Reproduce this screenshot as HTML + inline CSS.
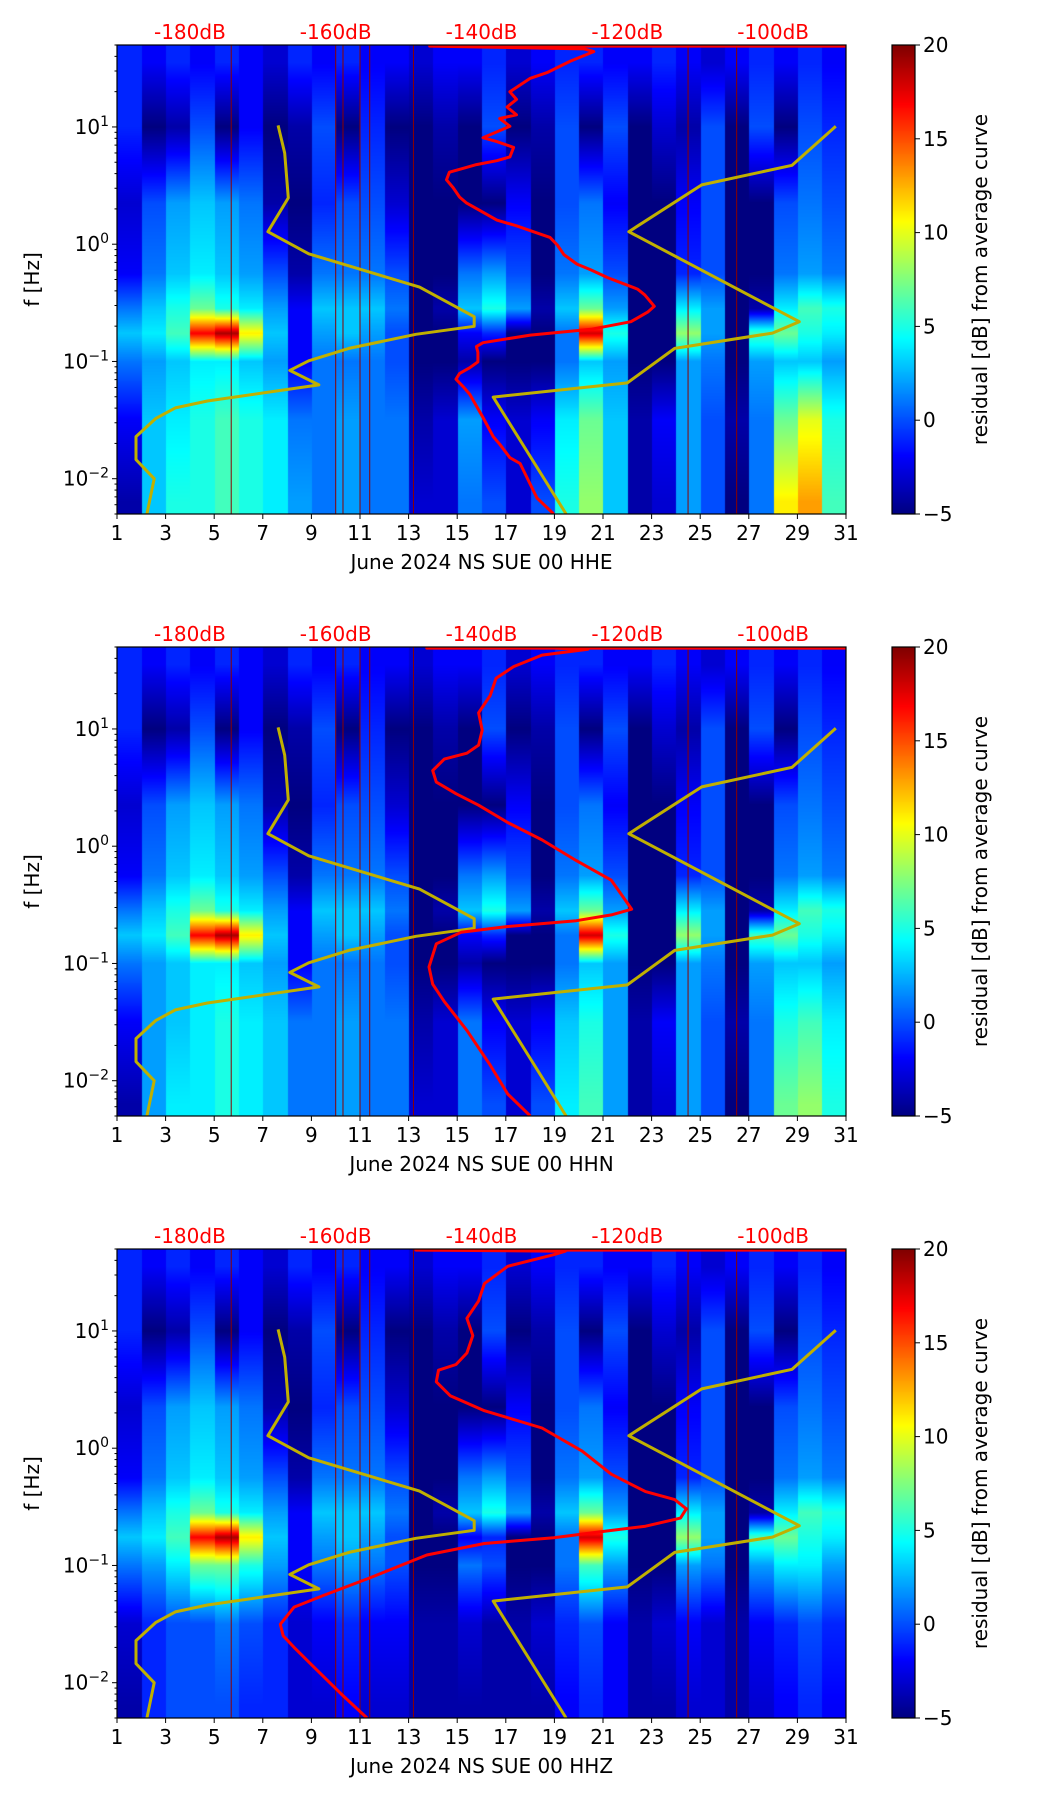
<!DOCTYPE html>
<html><head><meta charset="utf-8"><style>
html,body{margin:0;padding:0;background:#fff;}
#wrap{position:relative;width:1052px;height:1806px;overflow:hidden;font-family:"DejaVu Sans","Liberation Sans",sans-serif;}
canvas{position:absolute;}
svg{position:absolute;left:0;top:0;}
</style></head><body>
<div id="wrap">
<canvas id="c0"></canvas>
<canvas id="c1"></canvas>
<canvas id="c2"></canvas>
<canvas id="cb0"></canvas>
<canvas id="cb1"></canvas>
<canvas id="cb2"></canvas>
<svg id="svg" width="1052" height="1806" xmlns="http://www.w3.org/2000/svg"></svg>
</div>
<script>
// ---- data ----
const dayTicks = [1,3,5,7,9,11,13,15,17,19,21,23,25,27,29,31];
const dbTicks = [-180,-160,-140,-120,-100];
const decadeTicks = [-2,-1,0,1];
const cbTicks = [-5,0,5,10,15,20];
const panelLabels = ["June 2024 NS SUE 00 HHE","June 2024 NS SUE 00 HHN","June 2024 NS SUE 00 HHZ"];
const bandLogF = [1.55,1.0,0.35,-0.25,-0.55,-0.76,-1.0,-1.5,-2.2];
const r0 = [-1,-2,-1,-2,-1,-2,-3,-1,-2,-1,-2,-2,-3,-2,-2,-1,-3,-2,-1,-1,-2,-2,-1,-2,-3,-2,-1,-2,-1,-2];
const r1 = [-1,-5,-4,0,-5,-2,-5,-4,0,-5,-1,-5,-5,-4,-5,0,-5,-4,0,-5,0,-5,-3,-4,0,-5,0,-5,0,-1];
const r2 = [-3,0,2,3,2,1,-4,-5,-1,0,0,-3,-5,-5,-5,-5,-2,-5,0,1,-2,-5,-5,-2,0,-5,-5,0,1,0];
const r3 = [-2,1,3,4,3,2,0,-4,1,1,1,0,-5,-5,1,2,0,-5,1,2,0,-5,-5,-1,0,-5,-5,1,2,1];
const r4 = [1,3,5,7,5,4,2,-2,3,3,3,1,-5,-4,3,5,2,-4,3,7,2,-5,-5,4,2,-5,-4,4,6,5];
const r5 = [3,4,6,17,19,11,3,-2,2,3,2,0,-5,-5,-2,-1,-5,-5,1,18,5,-5,-5,8,2,-5,6,7,5,4];
const r6 = [1,2,3,4,4,3,2,-2,1,1,1,0,-5,-5,-4,-5,-5,-5,1,3,2,-5,-5,2,1,-5,2,3,3,2];
const r6z = [1,2,4,7,7,5,2,-2,1,2,1,0,-5,-5,1,0,-5,-5,1,6,2,-5,-5,2,1,-5,2,4,4,2];
const r7e = [-2,3,4,5,6,5,4,1,1,2,1,1,-4,-3,2,-2,-3,-2,4,7,3,-4,-2,2,0,-4,1,7,10,5];
const r8e = [-4,3,5,5,6,5,4,2,1,2,1,1,-3,-3,1,0,-3,0,5,8,3,-4,-3,2,0,-5,1,11,13,6];
const r7n = [-2,2,3,4,5,4,3,1,1,2,1,1,-4,-3,1,-2,-3,-2,3,5,2,-4,-2,2,0,-4,1,5,6,4];
const r8n = [-4,2,4,4,5,4,3,1,1,2,1,1,-3,-3,1,0,-3,0,4,6,2,-4,-3,2,0,-5,1,7,8,5];
const r7z = [-3,-1,0,0,1,0,-1,-3,-2,-1,-2,-2,-4,-4,-3,-4,-4,-3,-1,0,-2,-4,-3,-2,-3,-4,-2,-1,0,-1];
const r8z = [-4,-1,0,0,0,-1,-1,-3,-3,-2,-3,-3,-4,-4,-4,-4,-4,-4,-2,-1,-2,-4,-4,-3,-3,-4,-3,-2,-1,-2];
const gapDays = [5.7,10.0,10.3,11.0,11.4,13.2,24.5,26.5];
const nlnmDb = [-185.9,-184.9,-187.4,-187.4,-184.7,-182.0,-177.6,-162.3,-166.3,-163.7,-158.2,-149.0,-141.0,-141.0,-148.5,-163.7,-169.3,-166.5,-167.0,-167.9];
const nlnmLogF = [-2.301,-2.0,-1.837,-1.641,-1.487,-1.396,-1.337,-1.2,-1.076,-0.994,-0.889,-0.768,-0.7,-0.618,-0.366,-0.082,0.107,0.395,0.777,1.013];
const nhnmDb = [-128.4,-138.4,-120.0,-113.5,-100.1,-96.4,-119.8,-109.8,-97.4,-91.4];
const nhnmLogF = [-2.301,-1.304,-1.183,-0.889,-0.758,-0.661,0.107,0.506,0.673,1.006];
const avgDbE = [-130.1,-132.4,-134.7,-136.1,-137.5,-138.4,-139.8,-141.6,-142.5,-143.5,-143.0,-141.6,-140.5,-140.5,-140.7,-139.8,-133.3,-125.0,-119.5,-117.2,-116.3,-117.6,-118.6,-122.7,-125.0,-126.9,-128.7,-129.6,-130.6,-132.9,-135.2,-137.9,-140.2,-142.1,-143.0,-143.9,-144.8,-144.4,-142.5,-140.7,-137.9,-136.1,-135.6,-137.9,-139.8,-136.1,-137.5,-135.2,-136.5,-135.2,-136.1,-133.3,-131.0,-127.8,-124.6,-125.9,-147.1,-90];
const avgLogFE = [-2.301,-2.164,-1.870,-1.821,-1.706,-1.641,-1.478,-1.281,-1.216,-1.151,-1.102,-1.053,-1.004,-0.922,-0.873,-0.840,-0.775,-0.726,-0.661,-0.579,-0.530,-0.432,-0.383,-0.285,-0.219,-0.170,-0.089,-0.007,0.058,0.107,0.157,0.206,0.287,0.353,0.402,0.483,0.549,0.614,0.647,0.679,0.712,0.745,0.826,0.875,0.908,1.006,1.072,1.104,1.170,1.235,1.300,1.415,1.464,1.562,1.643,1.666,1.690,1.690];
const avgDbN = [-133.3,-136.4,-138.8,-142.0,-145.1,-146.7,-147.2,-146.2,-142.8,-136.4,-127.0,-122.2,-119.4,-122.2,-127.0,-131.7,-136.4,-140.4,-143.5,-146.2,-146.7,-145.1,-142.0,-140.4,-139.9,-140.4,-138.8,-138.0,-135.6,-131.7,-125.4,-130,-147.5,-90];
const avgLogFN = [-2.301,-2.113,-1.867,-1.571,-1.325,-1.177,-1.029,-0.832,-0.734,-0.685,-0.635,-0.586,-0.537,-0.290,-0.123,0.054,0.202,0.350,0.448,0.547,0.645,0.743,0.793,0.862,0.990,1.138,1.285,1.433,1.532,1.630,1.679,1.690,1.690,1.690];
const avgDbZ = [-155.7,-159.3,-163.3,-165.7,-167.2,-167.6,-165.7,-161.7,-155.4,-147.5,-139.6,-130.1,-123.8,-117.5,-112.7,-111.9,-113.5,-117.5,-122.2,-126.2,-131.7,-139.6,-144.3,-146.2,-145.9,-143.5,-142.0,-141.2,-142.0,-140.4,-139.6,-136.4,-130.1,-128.5,-149,-90];
const avgLogFZ = [-2.301,-2.093,-1.847,-1.699,-1.600,-1.502,-1.355,-1.256,-1.108,-0.911,-0.813,-0.763,-0.714,-0.665,-0.596,-0.517,-0.438,-0.370,-0.222,-0.025,0.172,0.320,0.448,0.566,0.665,0.714,0.812,0.960,1.108,1.256,1.404,1.551,1.650,1.680,1.690,1.690];

const panels = [
 {top:45, rows:[r0,r1,r2,r3,r4,r5,r6,r7e,r8e], avgDb:avgDbE, avgLogF:avgLogFE},
 {top:647, rows:[r0,r1,r2,r3,r4,r5,r6,r7n,r8n], avgDb:avgDbN, avgLogF:avgLogFN},
 {top:1249, rows:[r0,r1,r2,r3,r4,r5,r6z,r7z,r8z], avgDb:avgDbZ, avgLogF:avgLogFZ}
];
// ---- geometry ----
const X0=117, X1=846, H=469, CBX=892, CBW=23, FS=20;
const LOGMAX=Math.log10(50), LOGMIN=Math.log10(0.005);
function xDay(d){return X0+(d-1)/30*(X1-X0);}
function xDb(db){return X0+(db+190)/100*(X1-X0);}
function yF(top,lf){return top+(LOGMAX-lf)/(LOGMAX-LOGMIN)*H;}
function jet(v){
  let t=Math.max(0,Math.min(1,(v+5)/25));
  const c=x=>Math.round(255*Math.max(0,Math.min(1,x)));
  return [c(1.5-Math.abs(4*t-3)),c(1.5-Math.abs(4*t-2)),c(1.5-Math.abs(4*t-1))];
}
const NS="http://www.w3.org/2000/svg";
const svg=document.getElementById('svg');
function mk(tag,attrs,parent){const e=document.createElementNS(NS,tag);for(const k in attrs)e.setAttribute(k,attrs[k]);(parent||svg).appendChild(e);return e;}

panels.forEach((p,pi)=>{
  const cv=document.getElementById('c'+pi);
  cv.width=X1-X0; cv.height=H; cv.style.left=X0+'px'; cv.style.top=p.top+'px';
  const ctx=cv.getContext('2d');
  const img=ctx.createImageData(cv.width,cv.height);
  for(let py=0;py<H;py++){
    const lf=LOGMAX-(py+0.5)/H*(LOGMAX-LOGMIN);
    let k=0; while(k<bandLogF.length-2 && lf<bandLogF[k+1]) k++;
    let w=(bandLogF[k]-lf)/(bandLogF[k]-bandLogF[k+1]); w=Math.max(0,Math.min(1,w));
    for(let px=0;px<cv.width;px++){
      const d=px/cv.width*30; const i=Math.min(29,Math.floor(d));
      const v=p.rows[k][i]*(1-w)+p.rows[k+1][i]*w;
      const c=jet(v); const o=(py*cv.width+px)*4;
      img.data[o]=c[0];img.data[o+1]=c[1];img.data[o+2]=c[2];img.data[o+3]=255;
    }
  }
  ctx.putImageData(img,0,0);
  const cb=document.getElementById('cb'+pi);
  cb.width=CBW; cb.height=H; cb.style.left=CBX+'px'; cb.style.top=p.top+'px';
  const cctx=cb.getContext('2d');
  for(let py=0;py<H;py++){const c=jet(20-py/H*25);cctx.fillStyle=`rgb(${c[0]},${c[1]},${c[2]})`;cctx.fillRect(0,py,CBW,1);}

  const g=mk('g',{});
  
  
  gapDays.forEach(d=>{
    const l=mk('line',{x1:xDay(d),x2:xDay(d),y1:p.top,y2:p.top+H,stroke:'#8b0000','stroke-width':1},g);
    
    
  });
  const clip=mk('clipPath',{id:'clip'+pi},g);
  mk('rect',{x:X0,y:p.top,width:X1-X0,height:H},clip);
  const lg=mk('g',{'clip-path':'url(#clip'+pi+')'},g);
  const polyIn=(dbs,lfs,color,w,name)=>{
    const pts=dbs.map((db,i)=>xDb(db).toFixed(1)+','+yF(p.top,lfs[i]).toFixed(1)).join(' ');
    const e=mk('polyline',{points:pts,fill:'none',stroke:color,'stroke-width':w,'stroke-linejoin':'round'},lg);
    
    
  };
  polyIn(nlnmDb,nlnmLogF,'#c0b000',3,'nlnm-curve');
  polyIn(nhnmDb,nhnmLogF,'#c0b000',3,'nhnm-curve');
  polyIn(p.avgDb,p.avgLogF,'#ff0000',3,'average-psd-curve');
  const fr=mk('rect',{x:X0,y:p.top,width:X1-X0,height:H,fill:'none',stroke:'#000','stroke-width':1.2},g);
  
  
  const cfr=mk('rect',{x:CBX,y:p.top,width:CBW,height:H,fill:'none',stroke:'#000','stroke-width':1.2},g);
  
  
  dayTicks.forEach(d=>{
    const x=xDay(d);
    mk('line',{x1:x,x2:x,y1:p.top+H,y2:p.top+H+5,stroke:'#000','stroke-width':1},g);
    const t=mk('text',{x:x,y:p.top+H+26,'font-size':FS,'text-anchor':'middle',fill:'#000'},g);
    t.textContent=d;
    
    
  });
  const xl=mk('text',{x:(X0+X1)/2,y:p.top+H+55,'font-size':FS,'text-anchor':'middle',fill:'#000'},g);
  xl.textContent=panelLabels[pi];
  
  
  dbTicks.forEach(db=>{
    const t=mk('text',{x:xDb(db),y:p.top-6,'font-size':FS,'text-anchor':'middle',fill:'#ff0000'},g);
    t.textContent=db+'dB';
    
    
  });
  for(let dec=-3;dec<=1;dec++){
    for(let m=1;m<=9;m++){
      const lf=dec+Math.log10(m);
      if(lf<LOGMIN-1e-6||lf>LOGMAX+1e-6) continue;
      const y=yF(p.top,lf);
      mk('line',{x1:X0-(m===1?5:2.5),x2:X0,y1:y,y2:y,stroke:'#000','stroke-width':1},g);
    }
  }
  decadeTicks.forEach(dec=>{
    const y=yF(p.top,dec);
    const t=mk('text',{x:X0-8,y:y+7,'font-size':FS,'text-anchor':'end',fill:'#000'},g);
    
    
    const a=mk('tspan',{},t); a.textContent='10';
    const b=mk('tspan',{dy:-8,'font-size':14},t); b.textContent=(dec<0?'\u2212':'')+Math.abs(dec);
  });
  const yl=mk('text',{x:0,y:0,'font-size':FS,'text-anchor':'middle',fill:'#000',transform:`translate(39,${p.top+H/2}) rotate(-90)`},g);
  yl.textContent='f [Hz]';
  
  
  cbTicks.forEach(v=>{
    const y=p.top+(20-v)/25*H;
    mk('line',{x1:CBX+CBW,x2:CBX+CBW+5,y1:y,y2:y,stroke:'#000','stroke-width':1},g);
    const t=mk('text',{x:CBX+CBW+8,y:y+7,'font-size':FS,fill:'#000'},g);
    t.textContent=(v<0?'\u2212':'')+Math.abs(v);
    
    
  });
  const cl=mk('text',{x:0,y:0,'font-size':FS,'text-anchor':'middle',fill:'#000',transform:`translate(987,${p.top+H/2}) rotate(-90)`},g);
  cl.textContent='residual [dB] from average curve';
  
  
});
</script>
</body></html>
